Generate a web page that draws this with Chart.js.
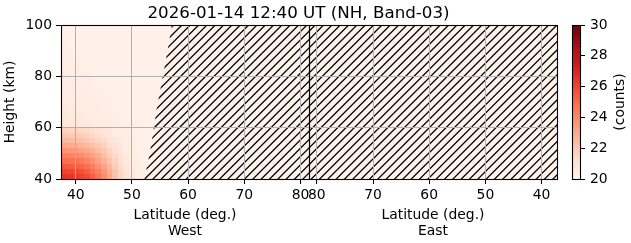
<!DOCTYPE html>
<html><head><meta charset="utf-8">
<script src="https://cdn.jsdelivr.net/npm/chart.js@4/dist/chart.umd.min.js"></script>
<style>
html,body{margin:0;padding:0;background:#fff;}
#wrap{position:relative;width:631px;height:243px;overflow:hidden;}
canvas{position:absolute;left:0;top:0;}
</style></head><body>
<div id="wrap"><canvas id="main" width="631" height="243"></canvas><canvas id="cbar" width="631" height="243"></canvas></div>
<script>
// ---------------- data ----------------
const TITLE = '2026-01-14 12:40 UT (NH, Band-03)';
const X_LABEL = 'Latitude (deg.)';
const HALF_NAMES = ['West', 'East'];
const Y_LABEL = 'Height (km)';
const CBAR_LABEL = '(counts)';

const X_MIN = 37.38;        // west latitude at left edge
const DIVIDER = 81.5;       // axis position of the West/East split
const EAST_MIRROR = 162.9;  // east axis position = EAST_MIRROR - latitude
const X_MAX = 125.64;

const X_TICKS_WEST = [40, 50, 60, 70, 80];
const X_TICKS_EAST = [80, 70, 60, 50, 40];
const Y_TICKS = [40, 60, 80, 100];
const CBAR_TICKS = [20, 22, 24, 26, 28, 30];
const CBAR_MIN = 20, CBAR_MAX = 30;

// cell centres (west latitude, 1 deg wide) and cell bottoms (height, 2 km tall)
const CELL_LATS = [37,38,39,40,41,42,43,44,45,46,47,48,49,50,51,52,53,54,55,56,57];
const CELL_HEIGHTS = [40,42,44,46,48,50,52,54,56,58,60,62,64,66,68,70,72,74,76,78,80,82,84,86,88,90,92,94,96,98];
const COUNTS = [
 [26.7,26.6,26.5,26.3,26.1,25.8,25.3,24.7,23.9,23.1,22.3,21.6,21.1,20.7,20.5,20.4,20.3,20.3,20.3,20.3,20.3],
 [26.2,26.1,26.0,25.9,25.7,25.4,24.9,24.3,23.6,22.9,22.2,21.5,21.0,20.7,20.5,20.4,20.3,20.3,20.3,20.3,20.3],
 [25.6,25.5,25.4,25.3,25.1,24.8,24.4,23.8,23.2,22.6,21.9,21.4,20.9,20.6,20.5,20.4,20.3,20.3,20.3,20.3,20.3],
 [25.0,24.9,24.8,24.7,24.5,24.2,23.8,23.3,22.8,22.2,21.7,21.2,20.8,20.6,20.4,20.3,20.3,20.3,20.3,20.3,20.3],
 [24.4,24.3,24.2,24.1,23.9,23.6,23.3,22.9,22.4,21.9,21.5,21.0,20.7,20.5,20.4,20.3,20.3,20.3,20.3,20.3,20.3],
 [23.8,23.7,23.6,23.5,23.3,23.1,22.8,22.4,22.0,21.6,21.2,20.9,20.6,20.5,20.4,20.3,20.3,20.3,20.3,20.3,20.3],
 [23.2,23.1,23.0,22.9,22.7,22.5,22.3,22.0,21.7,21.3,21.0,20.8,20.6,20.4,20.3,20.3,20.3,20.3,20.3,20.3,20.3],
 [22.6,22.6,22.5,22.4,22.3,22.1,21.9,21.6,21.4,21.1,20.9,20.7,20.5,20.4,20.3,20.3,20.3,20.3,20.3,20.3,20.3],
 [22.1,22.1,22.0,22.0,21.9,21.7,21.5,21.3,21.1,20.9,20.7,20.6,20.5,20.4,20.3,20.3,20.3,20.3,20.3,20.3,20.3],
 [21.7,21.7,21.6,21.6,21.5,21.4,21.2,21.1,20.9,20.8,20.6,20.5,20.4,20.3,20.3,20.3,20.3,20.3,20.3,20.3,20.3],
 [20.9,20.9,20.9,20.8,20.8,20.7,20.7,20.6,20.6,20.5,20.5,20.4,20.4,20.3,20.3,20.3,20.3,20.3,20.3,20.3,20.3],
 [20.8,20.8,20.8,20.8,20.7,20.7,20.6,20.6,20.5,20.5,20.4,20.4,20.3,20.3,20.3,20.3,20.3,20.3,20.3,20.3,20.3],
 [20.8,20.8,20.7,20.7,20.7,20.6,20.6,20.5,20.5,20.4,20.4,20.3,20.3,20.3,20.3,20.3,20.3,20.3,20.3,20.3,20.3],
 [20.7,20.7,20.7,20.7,20.6,20.6,20.5,20.5,20.4,20.4,20.4,20.3,20.3,20.3,20.3,20.3,20.3,20.3,20.3,20.3,20.3],
 [20.7,20.7,20.6,20.6,20.6,20.5,20.5,20.5,20.4,20.4,20.3,20.3,20.3,20.3,20.3,20.3,20.3,20.3,20.3,20.3,20.3],
 [20.6,20.6,20.6,20.6,20.5,20.5,20.5,20.4,20.4,20.4,20.3,20.3,20.3,20.3,20.3,20.3,20.3,20.3,20.3,20.3,20.3],
 [20.6,20.6,20.6,20.5,20.5,20.5,20.4,20.4,20.4,20.3,20.3,20.3,20.3,20.3,20.3,20.3,20.3,20.3,20.3,20.3,20.3],
 [20.5,20.5,20.5,20.5,20.5,20.4,20.4,20.4,20.3,20.3,20.3,20.3,20.3,20.3,20.3,20.3,20.3,20.3,20.3,20.3,20.3],
 [20.5,20.5,20.5,20.4,20.4,20.4,20.4,20.3,20.3,20.3,20.3,20.3,20.3,20.3,20.3,20.3,20.3,20.3,20.3,20.3,20.3],
 [20.5,20.5,20.5,20.4,20.4,20.4,20.4,20.3,20.3,20.3,20.3,20.3,20.3,20.3,20.3,20.3,20.3,20.3,20.3,20.3,20.3],
 [20.4,20.4,20.4,20.4,20.4,20.4,20.3,20.3,20.3,20.3,20.3,20.3,20.3,20.3,20.3,20.3,20.3,20.3,20.3,20.3,20.3],
 [20.4,20.4,20.4,20.4,20.4,20.3,20.3,20.3,20.3,20.3,20.3,20.3,20.3,20.3,20.3,20.3,20.3,20.3,20.3,20.3,20.3],
 [20.4,20.4,20.4,20.4,20.3,20.3,20.3,20.3,20.3,20.3,20.3,20.3,20.3,20.3,20.3,20.3,20.3,20.3,20.3,20.3,20.3],
 [20.4,20.4,20.4,20.3,20.3,20.3,20.3,20.3,20.3,20.3,20.3,20.3,20.3,20.3,20.3,20.3,20.3,20.3,20.3,20.3,20.3],
 [20.4,20.4,20.4,20.3,20.3,20.3,20.3,20.3,20.3,20.3,20.3,20.3,20.3,20.3,20.3,20.3,20.3,20.3,20.3,20.3,20.3],
 [20.4,20.4,20.3,20.3,20.3,20.3,20.3,20.3,20.3,20.3,20.3,20.3,20.3,20.3,20.3,20.3,20.3,20.3,20.3,20.3,20.3],
 [20.4,20.4,20.3,20.3,20.3,20.3,20.3,20.3,20.3,20.3,20.3,20.3,20.3,20.3,20.3,20.3,20.3,20.3,20.3,20.3,20.3],
 [20.4,20.3,20.3,20.3,20.3,20.3,20.3,20.3,20.3,20.3,20.3,20.3,20.3,20.3,20.3,20.3,20.3,20.3,20.3,20.3,20.3],
 [20.4,20.3,20.3,20.3,20.3,20.3,20.3,20.3,20.3,20.3,20.3,20.3,20.3,20.3,20.3,20.3,20.3,20.3,20.3,20.3,20.3],
 [20.3,20.3,20.3,20.3,20.3,20.3,20.3,20.3,20.3,20.3,20.3,20.3,20.3,20.3,20.3,20.3,20.3,20.3,20.3,20.3,20.3]
];

// west edge of the hatched (flagged) region, which extends to the right edge
const HATCH_EDGE_LAT    = [52.2, 52.9, 53.4, 53.9, 54.3, 54.9, 55.5, 56.0, 56.5, 57.1];
const HATCH_EDGE_HEIGHT = [40,   47,   53,   60,   66,   73,   80,   86,   92,   100];

// ---------------- styles ----------------
const FONT = 'DejaVu Sans';
const TICK_PX = 13.9, TITLE_PX = 16.7;
const GRID_COLOR = '#b0b0b0';
const PLOT_BG = 'rgb(254,242,237)';
const HATCH_SPACING = 8.333, HATCH_PHASE = 7.0;
const REDS = [[255,245,240],[254,224,210],[252,187,161],[252,146,114],[251,106,74],[239,59,44],[203,24,29],[165,15,21],[103,0,13]];
function reds(v){
  let t = (v - CBAR_MIN) / (CBAR_MAX - CBAR_MIN);
  t = Math.max(0, Math.min(1, t));
  const p = t * 8, i = Math.min(7, Math.floor(p)), f = p - i;
  const a = REDS[i], b = REDS[i+1];
  return 'rgb(' + [0,1,2].map(k => Math.round(a[k] + (b[k]-a[k])*f)).join(',') + ')';
}

Chart.defaults.font.family = FONT;
Chart.defaults.color = '#000';

const heatPlugin = {
  id: 'heat',
  beforeDatasetsDraw(chart){
    const {ctx, chartArea: ca} = chart;
    const xs = chart.scales.x, ys = chart.scales.y;
    ctx.save();
    ctx.beginPath(); ctx.rect(ca.left, ca.top, ca.right-ca.left, ca.bottom-ca.top); ctx.clip();
    ctx.fillStyle = PLOT_BG;
    ctx.fillRect(ca.left, ca.top, ca.right-ca.left, ca.bottom-ca.top);
    // cells
    CELL_HEIGHTS.forEach((h, r) => {
      const y0 = ys.getPixelForValue(h + 2), y1 = ys.getPixelForValue(h);
      CELL_LATS.forEach((lat, c) => {
        const x0 = xs.getPixelForValue(lat - 0.5), x1 = xs.getPixelForValue(lat + 0.5);
        ctx.fillStyle = reds(COUNTS[r][c]);
        ctx.fillRect(Math.round(x0), Math.round(y0), Math.round(x1) - Math.round(x0), Math.round(y1) - Math.round(y0));
      });
    });
    // hatch
    ctx.beginPath();
    HATCH_EDGE_LAT.forEach((lat, i) => {
      const px = xs.getPixelForValue(lat), py = ys.getPixelForValue(HATCH_EDGE_HEIGHT[i]);
      if (i === 0) ctx.moveTo(px, py); else ctx.lineTo(px, py);
    });
    ctx.lineTo(xs.getPixelForValue(X_MAX), ys.getPixelForValue(100));
    ctx.lineTo(xs.getPixelForValue(X_MAX), ys.getPixelForValue(40));
    ctx.closePath();
    ctx.clip();
    ctx.strokeStyle = '#000'; ctx.lineWidth = 1.3;
    ctx.beginPath();
    const cStart = Math.floor((ca.left + ca.top) / HATCH_SPACING) * HATCH_SPACING + HATCH_PHASE - HATCH_SPACING;
    for (let c = cStart; c <= ca.right + ca.bottom + HATCH_SPACING; c += HATCH_SPACING){
      ctx.moveTo(c - ca.bottom - 2, ca.bottom + 2);
      ctx.lineTo(c - ca.top + 2, ca.top - 2);
    }
    ctx.stroke();
    ctx.restore();
  },
  afterDraw(chart){
    const {ctx, chartArea: ca} = chart;
    const xs = chart.scales.x;
    ctx.save();
    // divider
    const dx = Math.round(xs.getPixelForValue(DIVIDER)) + 0.5;
    ctx.strokeStyle = '#000'; ctx.lineWidth = 1.2;
    ctx.beginPath(); ctx.moveTo(dx, ca.top); ctx.lineTo(dx, ca.bottom); ctx.stroke();
    // frame
    ctx.lineWidth = 1.1;
    ctx.strokeRect(Math.round(ca.left)+0.5, Math.round(ca.top)+0.5, Math.round(ca.right-ca.left), Math.round(ca.bottom-ca.top));
    // texts
    ctx.fillStyle = '#000';
    ctx.textAlign = 'center'; ctx.textBaseline = 'alphabetic';
    ctx.font = TITLE_PX + 'px "' + FONT + '"';
    ctx.fillText(TITLE, 298.5, 17.5);
    ctx.font = TICK_PX + 'px "' + FONT + '"';
    const wc = (xs.getPixelForValue(X_MIN) + xs.getPixelForValue(DIVIDER)) / 2;
    const ec = (xs.getPixelForValue(DIVIDER) + xs.getPixelForValue(X_MAX)) / 2;
    [wc, ec].forEach((cx, i) => {
      ctx.fillText(X_LABEL, cx, 218.5);
      ctx.fillText(HALF_NAMES[i], cx, 234.5);
    });
    ctx.restore();
  }
};

new Chart(document.getElementById('main'), {
  type: 'scatter',
  data: { datasets: [] },
  options: {
    responsive: false, animation: false, devicePixelRatio: 1,
    layout: { padding: { left: 0, right: 74, top: 25, bottom: 0 } },
    plugins: { legend: { display: false }, tooltip: { enabled: false }, title: { display: false } },
    scales: {
      x: {
        type: 'linear', min: X_MIN, max: X_MAX,
        afterBuildTicks(s){ s.ticks = X_TICKS_WEST.map(v => ({value: v})).concat(X_TICKS_EAST.map(v => ({value: EAST_MIRROR - v}))); },
        afterFit(s){ s.height = 64; },
        ticks: { autoSkip: false, maxRotation: 0, font: { size: TICK_PX }, color: '#000', padding: 3,
          callback(v){ const lat = v <= DIVIDER ? v : EAST_MIRROR - v; return String(Math.round(lat)); } },
        grid: { color: GRID_COLOR, lineWidth: 1, z: 1, tickColor: '#000', tickLength: 5, tickWidth: 1 },
        border: { display: false }
      },
      y: {
        type: 'linear', min: 40, max: 100,
        afterBuildTicks(s){ s.ticks = Y_TICKS.map(v => ({value: v})); },
        afterFit(s){ s.width = 61; },
        ticks: { font: { size: TICK_PX }, color: '#000', padding: 4 },
        grid: { color: GRID_COLOR, lineWidth: 1, z: 1, tickColor: '#000', tickLength: 5, tickWidth: 1 },
        border: { display: false },
        title: { display: true, text: Y_LABEL, font: { size: TICK_PX }, color: '#000', padding: { top: 2, bottom: 0 } }
      }
    }
  },
  plugins: [heatPlugin]
});

const cbarPlugin = {
  id: 'cbarfill',
  beforeDatasetsDraw(chart){
    const {ctx, chartArea: ca} = chart;
    const ys = chart.scales.y;
    ctx.save();
    for (let v = CBAR_MIN; v < CBAR_MAX; v += 0.05){
      const y0 = ys.getPixelForValue(Math.min(CBAR_MAX, v + 0.05)), y1 = ys.getPixelForValue(v);
      ctx.fillStyle = reds(v + 0.025);
      ctx.fillRect(ca.left, y0, ca.right - ca.left, y1 - y0 + 0.6);
    }
    ctx.restore();
  },
  afterDraw(chart){
    const {ctx, chartArea: ca} = chart;
    ctx.save();
    ctx.strokeStyle = '#000'; ctx.lineWidth = 1.1;
    ctx.strokeRect(Math.round(ca.left)+0.5, Math.round(ca.top)+0.5, Math.round(ca.right-ca.left), Math.round(ca.bottom-ca.top));
    ctx.fillStyle = '#000';
    ctx.font = TICK_PX + 'px "' + FONT + '"';
    ctx.textAlign = 'center'; ctx.textBaseline = 'middle';
    ctx.translate(620, (ca.top + ca.bottom) / 2);
    ctx.rotate(-Math.PI / 2);
    ctx.fillText(CBAR_LABEL, 0, 0);
    ctx.restore();
  }
};

new Chart(document.getElementById('cbar'), {
  type: 'scatter',
  data: { datasets: [] },
  options: {
    responsive: false, animation: false, devicePixelRatio: 1,
    layout: { padding: { left: 572, right: 0, top: 25, bottom: 64 } },
    plugins: { legend: { display: false }, tooltip: { enabled: false } },
    scales: {
      x: { display: false, min: 0, max: 1 },
      y: {
        position: 'right', min: CBAR_MIN, max: CBAR_MAX,
        afterBuildTicks(s){ s.ticks = CBAR_TICKS.map(v => ({value: v})); },
        afterFit(s){ s.width = 51; },
        ticks: { font: { size: TICK_PX }, color: '#000', padding: 5 },
        grid: { drawOnChartArea: false, tickColor: '#000', tickLength: 5, tickWidth: 1 },
        border: { display: false }
      }
    }
  },
  plugins: [cbarPlugin]
});
</script>
</body></html>
